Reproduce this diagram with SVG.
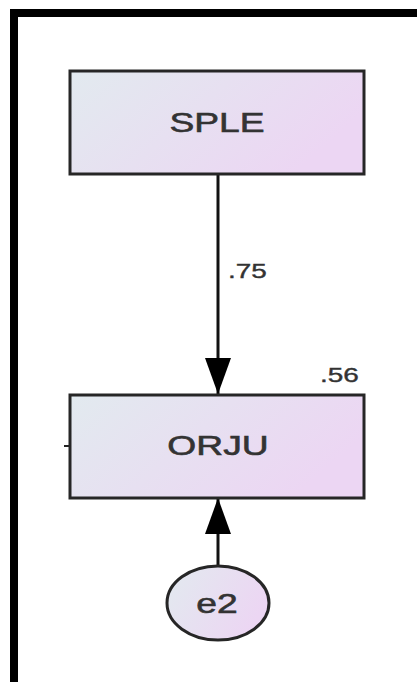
<svg xmlns="http://www.w3.org/2000/svg" width="417" height="682" viewBox="0 0 417 682">
  <style>
    .node { stroke: #262626; stroke-width: 3; fill: url(#g); }
    .lbl { font-family: "Liberation Sans", Arial, sans-serif; font-size: 28px; fill: #333; stroke: #333; stroke-width: 0.6; text-anchor: middle; }
    .num { font-family: "Liberation Sans", Arial, sans-serif; font-size: 21px; fill: #333; stroke: #333; stroke-width: 0.4; text-anchor: start; }
    .edge { stroke: #111; stroke-width: 3; fill: none; }
  </style>
  <defs>
    <linearGradient id="g" x1="0" y1="0" x2="1" y2="0.4">
      <stop offset="0" stop-color="#e2eaef"/>
      <stop offset="1" stop-color="#ecd6f3"/>
    </linearGradient>
    <marker id="ah" markerUnits="userSpaceOnUse" markerWidth="36" markerHeight="26" refX="36" refY="13" orient="auto">
      <path d="M0,0 L36,13 L0,26 z" fill="#000"/>
    </marker>
  </defs>
  <rect x="0" y="0" width="417" height="682" fill="#fff"/>
  <path d="M14,682 V13 H417" fill="none" stroke="#000" stroke-width="8"/>

  <g id="connectors">
    <line class="edge" x1="218" y1="174" x2="218" y2="394" marker-end="url(#ah)"/>
    <line class="edge" x1="218" y1="565" x2="218" y2="498" marker-end="url(#ah)"/>
    <line x1="64" y1="446" x2="70" y2="446" stroke="#222" stroke-width="2"/>
    <text class="num" transform="translate(228,278) scale(1.33,1)">.75</text>
  </g>

  <g id="SPLE">
    <rect class="node" x="70" y="71" width="294" height="103"/>
    <text class="lbl" transform="translate(217,132) scale(1.33,1)">SPLE</text>
  </g>

  <g id="ORJU">
    <rect class="node" x="70" y="395" width="294" height="103"/>
    <text class="lbl" transform="translate(218,455) scale(1.33,1)">ORJU</text>
    <text class="num" transform="translate(320,382) scale(1.33,1)">.56</text>
  </g>

  <g id="e2">
    <ellipse class="node" cx="218" cy="603" rx="51" ry="37"/>
    <text class="lbl" transform="translate(217,613) scale(1.33,1)">e2</text>
  </g>
</svg>
